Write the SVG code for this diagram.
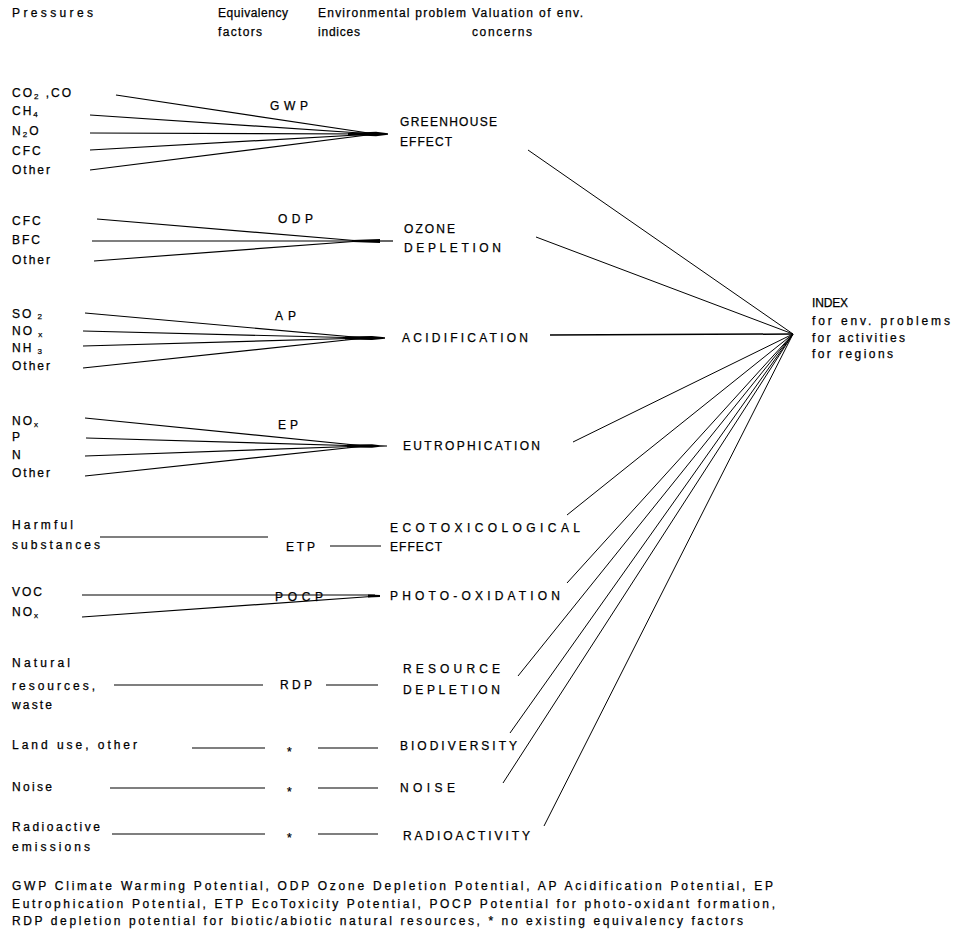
<svg xmlns="http://www.w3.org/2000/svg" width="954" height="938" viewBox="0 0 954 938">
<style>
text{font-family:"Liberation Sans",Arial,sans-serif;font-size:12px;fill:#000;stroke:#000;stroke-width:0.25}
.sub{font-size:8px}
.ls{letter-spacing:2px}
#connectors line{stroke:#000;stroke-width:1.2;fill:none}
#connectors polygon{fill:#000;stroke:none}
#index-links line{stroke:#000;stroke-width:1}
</style>
<rect width="954" height="938" fill="#fff"/>

<g id="headers">
<text x="12" y="17" textLength="81">Pressures</text>
<text x="218" y="17" textLength="70">Equivalency</text>
<text x="218" y="36" textLength="44">factors</text>
<text x="318" y="17" textLength="148">Environmental problem</text>
<text x="318" y="36" textLength="42">indices</text>
<text x="472" y="17" textLength="111">Valuation of env.</text>
<text x="472" y="36" textLength="60">concerns</text>
</g>

<g id="connectors">
<line x1="116" y1="95" x2="375" y2="134"/>
<line x1="90" y1="115" x2="375" y2="134"/>
<line x1="90" y1="133" x2="375" y2="134"/>
<line x1="90" y1="150" x2="375" y2="134"/>
<line x1="90" y1="170" x2="375" y2="134"/>
<polygon points="348,133 376,131.8 388,133.2 388,134.8 376,136.2 348,135"/>
<line x1="97" y1="219" x2="360" y2="241"/>
<line x1="92" y1="241" x2="360" y2="241"/>
<line x1="94" y1="261" x2="360" y2="241"/>
<polygon points="352,240 380,239 380,243 352,242"/>
<line x1="380" y1="241" x2="393" y2="241"/>
<line x1="85" y1="313" x2="365" y2="338"/>
<line x1="83" y1="331" x2="365" y2="338"/>
<line x1="83" y1="346" x2="365" y2="338"/>
<line x1="83" y1="368" x2="365" y2="338"/>
<polygon points="345,336.6 372,336 385,337.2 385,338.8 372,340 345,339.4"/>
<line x1="85" y1="418" x2="365" y2="446"/>
<line x1="86" y1="438" x2="365" y2="446"/>
<line x1="85" y1="456" x2="365" y2="446"/>
<line x1="85" y1="476" x2="365" y2="446"/>
<polygon points="347,444.6 372,444.2 380,445.2 387,445.4 387,446.6 380,446.8 372,447.8 347,447.4"/>
<line x1="100" y1="537" x2="268" y2="537"/>
<line x1="330" y1="546" x2="381" y2="546"/>
<line x1="82" y1="595" x2="375" y2="595"/>
<line x1="82" y1="617" x2="378" y2="596"/>
<polygon points="368,594.5 380,595 380,597 368,597.5"/>
<line x1="114" y1="685" x2="263" y2="685"/>
<line x1="326" y1="685" x2="378" y2="685"/>
<line x1="192" y1="748" x2="265" y2="748"/>
<line x1="318" y1="748" x2="378" y2="748"/>
<line x1="110" y1="788" x2="265" y2="788"/>
<line x1="318" y1="788" x2="378" y2="788"/>
<line x1="112" y1="834" x2="265" y2="834"/>
<line x1="318" y1="834" x2="378" y2="834"/>
</g>

<g id="index-links">
<line x1="528" y1="150" x2="793" y2="334"/>
<line x1="536" y1="237" x2="793" y2="334"/>
<line x1="550" y1="335" x2="793" y2="334" style="stroke-width:1.5"/>
<line x1="573" y1="442" x2="793" y2="334"/>
<line x1="567" y1="515" x2="793" y2="334"/>
<line x1="567" y1="583" x2="793" y2="334"/>
<line x1="518" y1="676" x2="793" y2="334"/>
<line x1="510" y1="733" x2="793" y2="334"/>
<line x1="503" y1="783" x2="793" y2="334"/>
<line x1="544" y1="826" x2="793" y2="334"/>
</g>

<g id="gwp-pressures">
<text class="ls" x="12" y="97">CO<tspan class="sub" dy="2">2</tspan><tspan dy="-2"> ,CO</tspan></text>
<text class="ls" x="12" y="115">CH<tspan class="sub" dy="2">4</tspan></text>
<text class="ls" x="12" y="135">N<tspan class="sub" dy="2">2</tspan><tspan dy="-2">O</tspan></text>
<text class="ls" x="12" y="155">CFC</text>
<text class="ls" x="12" y="174">Other</text>
</g>
<g id="gwp"><text x="270" y="110" textLength="38">GWP</text></g>
<g id="greenhouse">
<text x="400" y="126" textLength="97">GREENHOUSE</text>
<text x="400" y="146" textLength="52">EFFECT</text>
</g>

<g id="odp-pressures">
<text class="ls" x="12" y="225">CFC</text>
<text class="ls" x="12" y="244">BFC</text>
<text class="ls" x="12" y="264">Other</text>
</g>
<g id="odp"><text x="278" y="223" textLength="35">ODP</text></g>
<g id="ozone">
<text x="404" y="233" textLength="51">OZONE</text>
<text x="404" y="252" textLength="97">DEPLETION</text>
</g>

<g id="ap-pressures">
<text class="ls" x="12" y="318">SO<tspan class="sub" dy="1"> 2</tspan></text>
<text class="ls" x="12" y="335">NO<tspan class="sub" dy="2"> x</tspan></text>
<text class="ls" x="12" y="352">NH<tspan class="sub" dy="2"> 3</tspan></text>
<text class="ls" x="12" y="370">Other</text>
</g>
<g id="ap"><text x="275" y="320" textLength="21">AP</text></g>
<g id="acidification"><text x="402" y="342" textLength="126">ACIDIFICATION</text></g>

<g id="ep-pressures">
<text class="ls" x="12" y="425">NO<tspan class="sub" dy="2">x</tspan></text>
<text class="ls" x="12" y="441">P</text>
<text class="ls" x="12" y="459">N</text>
<text class="ls" x="12" y="477">Other</text>
</g>
<g id="ep"><text x="278" y="429" textLength="20">EP</text></g>
<g id="eutrophication"><text x="403" y="450" textLength="137">EUTROPHICATION</text></g>

<g id="harmful">
<text x="12" y="529" textLength="61">Harmful</text>
<text x="12" y="549" textLength="88">substances</text>
</g>
<g id="etp"><text x="286" y="551" textLength="29">ETP</text></g>
<g id="ecotox">
<text x="390" y="532" textLength="190">ECOTOXICOLOGICAL</text>
<text x="390" y="551" textLength="52">EFFECT</text>
</g>

<g id="pocp-pressures">
<text class="ls" x="12" y="596">VOC</text>
<text class="ls" x="12" y="616">NO<tspan class="sub" dy="2">x</tspan></text>
</g>
<g id="pocp"><text x="275" y="601" textLength="48">POCP</text></g>
<g id="photo"><text x="390" y="600" textLength="170">PHOTO-OXIDATION</text></g>

<g id="natural">
<text x="12" y="667" textLength="58">Natural</text>
<text x="12" y="690" textLength="83">resources,</text>
<text x="12" y="709" textLength="40">waste</text>
</g>
<g id="rdp"><text x="280" y="689" textLength="32">RDP</text></g>
<g id="resource">
<text x="403" y="673" textLength="97">RESOURCE</text>
<text x="403" y="694" textLength="97">DEPLETION</text>
</g>

<g id="landuse"><text x="12" y="749" textLength="125">Land use, other</text></g>
<g id="star1"><text x="287" y="756">*</text></g>
<g id="biodiversity"><text x="400" y="750" textLength="117">BIODIVERSITY</text></g>

<g id="noise-p"><text x="12" y="791" textLength="40">Noise</text></g>
<g id="star2"><text x="287" y="796">*</text></g>
<g id="noise"><text x="400" y="792" textLength="55">NOISE</text></g>

<g id="radio-p">
<text x="12" y="831" textLength="88">Radioactive</text>
<text x="12" y="851" textLength="78">emissions</text>
</g>
<g id="star3"><text x="287" y="842">*</text></g>
<g id="radioactivity"><text x="403" y="840" textLength="127">RADIOACTIVITY</text></g>

<g id="index">
<text x="812" y="307" textLength="36">INDEX</text>
<text x="812" y="325" textLength="138">for env. problems</text>
<text x="812" y="342" textLength="93">for activities</text>
<text x="812" y="358" textLength="81">for regions</text>
</g>

<g id="legend">
<text x="12" y="890" textLength="761">GWP Climate Warming Potential, ODP Ozone Depletion Potential, AP Acidification Potential, EP</text>
<text x="12" y="908" textLength="763">Eutrophication Potential, ETP EcoToxicity Potential, POCP Potential for photo-oxidant formation,</text>
<text x="12" y="925" textLength="731">RDP depletion potential for biotic/abiotic natural resources, * no existing equivalency factors</text>
</g>
</svg>
